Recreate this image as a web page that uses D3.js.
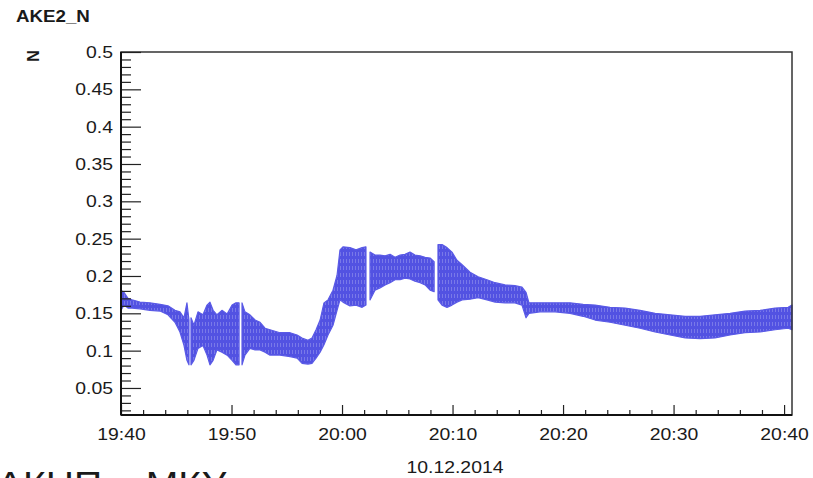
<!DOCTYPE html>
<html>
<head>
<meta charset="utf-8">
<script src="https://cdn.jsdelivr.net/npm/d3@7/dist/d3.min.js"></script>
<style>
  html, body { margin: 0; padding: 0; background: #fff; }
  svg { display: block; }
  text { font-family: "Liberation Sans", Arial, Helvetica, sans-serif; fill: #1a1a1a; }
</style>
</head>
<body>
<svg id="chart" width="813" height="478"></svg>
<script>
// Channel AKE2_N, 10.12.2014 — envelope of the sampled signal (upper / lower bound)
const sampleTimes = [
  "19:40:00","19:40:16","19:40:38","19:41:00","19:41:43","19:42:37","19:43:32","19:44:15","19:44:53","19:45:20",
  "19:45:42","19:45:58","19:46:09","19:46:15","19:46:20","19:46:36","19:46:58","19:47:25","19:47:47","19:48:03",
  "19:48:20","19:48:41","19:49:08","19:49:36","19:50:03","19:50:24","19:50:41","19:50:49","19:50:57","19:51:13",
  "19:51:40","19:52:08","19:52:35","19:53:02","19:53:29","19:54:23","19:55:18","19:55:56","19:56:23","19:56:55",
  "19:57:17","19:57:39","19:58:01","19:58:22","19:58:44","19:59:11","19:59:33","19:59:49","20:00:05","20:00:43",
  "20:01:16","20:01:49","20:02:10","20:02:21","20:02:32","20:02:59","20:03:26","20:03:54","20:04:21","20:04:48",
  "20:05:15","20:05:42","20:06:09","20:06:36","20:07:04","20:07:31","20:07:58","20:08:20","20:08:30","20:08:41",
  "20:09:03","20:09:30","20:09:57","20:10:24","20:10:52","20:11:35","20:12:19","20:13:07","20:13:51","20:14:45",
  "20:15:39","20:16:17","20:16:39","20:16:55","20:17:55","20:19:17","20:20:38","20:21:49","20:22:54","20:24:15",
  "20:25:37","20:26:58","20:28:20","20:29:41","20:31:03","20:32:24","20:33:45","20:35:07","20:36:28","20:37:50",
  "20:39:11","20:40:22","20:40:43"
];
// null marks a short dropout in the record
const upperN = [
  0.181,0.178,0.170,0.168,0.165,0.164,0.162,0.160,0.154,0.152,
  0.144,0.164,0.141,null,0.144,0.134,0.152,0.148,0.161,0.165,
  0.154,0.148,0.154,0.149,0.161,0.164,0.164,null,0.164,0.152,
  0.148,0.141,0.138,0.130,0.128,0.124,0.124,0.121,0.117,0.114,
  0.117,0.128,0.141,0.164,0.168,0.181,0.201,0.235,0.239,0.238,
  0.235,0.238,0.239,null,0.232,0.228,0.228,0.227,0.229,0.225,
  0.228,0.229,0.232,0.228,0.227,0.225,0.224,0.219,null,0.242,
  0.242,0.238,0.232,0.221,0.215,0.205,0.199,0.195,0.191,0.188,
  0.187,0.185,0.178,0.164,0.164,0.164,0.164,0.162,0.161,0.158,
  0.157,0.154,0.150,0.148,0.146,0.146,0.148,0.150,0.153,0.154,
  0.157,0.158,0.161
];
const lowerN = [
  0.154,0.161,0.157,0.157,0.156,0.154,0.153,0.148,0.138,0.125,
  0.107,0.087,0.081,null,0.081,0.087,0.103,0.107,0.094,0.081,
  0.087,0.101,0.098,0.094,0.087,0.081,0.081,null,0.081,0.094,
  0.103,0.101,0.101,0.098,0.094,0.094,0.092,0.090,0.083,0.082,
  0.083,0.090,0.098,0.108,0.121,0.134,0.154,0.168,0.165,0.160,
  0.161,0.158,0.161,null,0.168,0.181,0.184,0.188,0.191,0.195,
  0.195,0.197,0.196,0.193,0.191,0.188,0.181,0.179,null,0.168,
  0.161,0.158,0.161,0.165,0.168,0.169,0.171,0.168,0.165,0.164,
  0.164,0.161,0.144,0.150,0.152,0.152,0.150,0.146,0.141,0.138,
  0.134,0.130,0.125,0.121,0.117,0.116,0.117,0.121,0.124,0.125,
  0.128,0.130,0.128
];
const xTickLabels = ["19:40","19:50","20:00","20:10","20:20","20:30","20:40"];
const yTickValues = [0.05,0.1,0.15,0.2,0.25,0.3,0.35,0.4,0.45,0.5];
const timeStart = "19:40:00", timeEnd = "20:40:43";
const yMin = 0.0138, yMax = 0.5;

const svg = d3.select("#chart");
const parseT = d3.timeParse("%H:%M:%S");
const parseHM = d3.timeParse("%H:%M");
const FONT = "'Liberation Sans', Arial, sans-serif";
const WIDEN = 1.14; // glyphs in this plot style run slightly wide

// widen text horizontally while keeping its anchor point
function widen(sel, k) {
  sel.each(function () {
    const w = this.getComputedTextLength();
    d3.select(this).attr("textLength", w * k).attr("lengthAdjust", "spacingAndGlyphs");
  });
}

const frame = { left: 121, right: 792, top: 52, bottom: 415 };
const x = d3.scaleTime().domain([parseT(timeStart), parseT(timeEnd)]).range([frame.left, frame.right]);
const y = d3.scaleLinear().domain([yMin, yMax]).range([frame.bottom, frame.top]);

const rows = sampleTimes.map((t, i) => ({ t: parseT(t), hi: upperN[i], lo: lowerN[i] }));

// fine vertical hatching gives the band the look of a densely sampled trace
const defs = svg.append("defs");
const pat = defs.append("pattern")
  .attr("id", "trace").attr("patternUnits", "userSpaceOnUse")
  .attr("width", 3).attr("height", 7);
pat.append("rect").attr("width", 3).attr("height", 7).attr("fill", "#5252e2");
pat.append("rect").attr("x", 1).attr("y", 0).attr("width", 0.8).attr("height", 4)
  .attr("fill", "#ffffff").attr("opacity", 0.28);

const band = d3.area()
  .defined(d => d.hi !== null && d.lo !== null)
  .x(d => x(d.t))
  .y0(d => y(d.lo))
  .y1(d => y(d.hi))
  .curve(d3.curveLinear);

svg.append("path")
  .datum(rows)
  .attr("d", band)
  .attr("fill", "url(#trace)")
  .attr("stroke", "#5a5ae6")
  .attr("stroke-width", 1.2)
  .attr("stroke-linejoin", "round");

// frame
svg.append("rect")
  .attr("x", frame.left).attr("y", frame.top)
  .attr("width", frame.right - frame.left).attr("height", frame.bottom - frame.top)
  .attr("fill", "none").attr("stroke", "#333").attr("stroke-width", 1.5);

// y axis: major ticks with labels, minor ticks every 0.01
const yMinor = d3.range(2, 50).map(v => v / 100).filter(v => Math.round(v * 100) % 5 !== 0);
svg.append("g")
  .attr("transform", `translate(${frame.left},0)`)
  .call(d3.axisLeft(y).tickValues(yMinor).tickSizeInner(-10).tickSizeOuter(0).tickFormat(""))
  .call(g => g.select(".domain").remove())
  .call(g => g.selectAll("line").attr("stroke", "#222").attr("stroke-width", 1.2));
svg.append("g")
  .attr("transform", `translate(${frame.left},0)`)
  .call(d3.axisLeft(y).tickValues(yTickValues).tickSizeInner(-20).tickSizeOuter(0).tickPadding(8)
        .tickFormat(d => String(+d.toFixed(2))))
  .call(g => g.select(".domain").remove())
  .call(g => g.selectAll("line").attr("stroke", "#222").attr("stroke-width", 1.2))
  .call(g => g.selectAll("text").attr("font-size", 17).attr("fill", "#1a1a1a").style("font-family", FONT))
  .call(g => widen(g.selectAll("text"), WIDEN));

// x axis: ten-minute majors, two-minute minors
const xMajor = xTickLabels.map(s => parseT(s + ":00"));
const xMinor = d3.timeMinute.every(2).range(parseT(timeStart), parseT(timeEnd))
  .filter(d => d.getMinutes() % 10 !== 0);
svg.append("g")
  .attr("transform", `translate(0,${frame.bottom})`)
  .call(d3.axisBottom(x).tickValues(xMinor).tickSizeInner(-5).tickSizeOuter(0).tickFormat(""))
  .call(g => g.select(".domain").remove())
  .call(g => g.selectAll("line").attr("stroke", "#222").attr("stroke-width", 1.2));
svg.append("g")
  .attr("transform", `translate(0,${frame.bottom})`)
  .call(d3.axisBottom(x).tickValues(xMajor).tickSizeInner(-10).tickSizeOuter(0).tickPadding(13)
        .tickFormat((d, i) => xTickLabels[i]))
  .call(g => g.select(".domain").remove())
  .call(g => g.selectAll("line").attr("stroke", "#222").attr("stroke-width", 1.2))
  .call(g => g.selectAll("text").attr("font-size", 17).attr("fill", "#1a1a1a").style("font-family", FONT))
  .call(g => widen(g.selectAll("text"), WIDEN));

// heavier left and bottom axis lines
svg.append("line").attr("x1", frame.left).attr("x2", frame.left).attr("y1", frame.top).attr("y2", frame.bottom)
  .attr("stroke", "#111").attr("stroke-width", 2);
svg.append("line").attr("x1", frame.left).attr("x2", frame.right).attr("y1", frame.bottom).attr("y2", frame.bottom)
  .attr("stroke", "#111").attr("stroke-width", 2);

// titles
const title = svg.append("text").attr("x", 16).attr("y", 22)
  .attr("font-size", 16).attr("font-weight", "bold").text("AKE2_N");
widen(title, 1.17);
svg.append("text").attr("transform", "translate(39,56) rotate(-90)")
  .attr("text-anchor", "middle").attr("font-size", 16).attr("font-weight", "bold").text("N");
const dateLabel = svg.append("text").attr("x", 455).attr("y", 473).attr("text-anchor", "middle")
  .attr("font-size", 17).text("10.12.2014");
widen(dateLabel, WIDEN);
const caption = svg.append("text").attr("x", -3).attr("y", 495)
  .attr("font-size", 34).text("АКНП – МКУ");
widen(caption, 1.15);
</script>
</body>
</html>
